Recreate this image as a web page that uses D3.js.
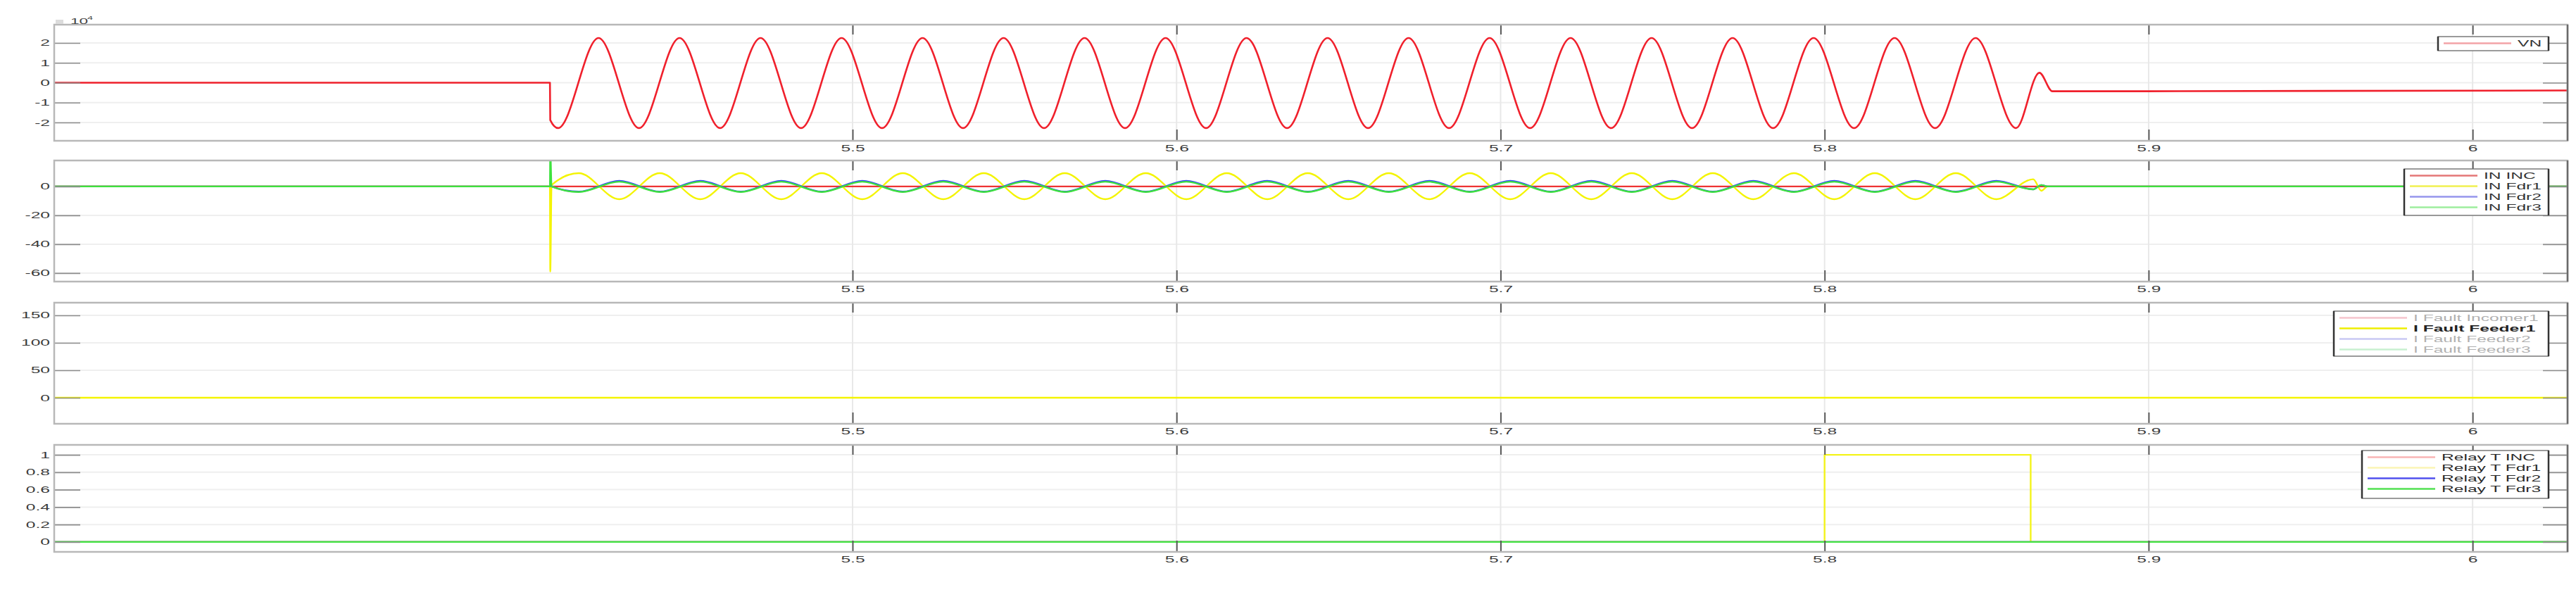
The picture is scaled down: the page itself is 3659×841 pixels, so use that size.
<!DOCTYPE html>
<html>
<head>
<meta charset="utf-8">
<script src="https://cdn.jsdelivr.net/npm/d3@7"></script>
<style>
  body { margin: 0; background: #fff; }
  svg { display: block; }
  text { font-family: "Liberation Sans", Arial, sans-serif; }
</style>
</head>
<body>
<svg id="chart" width="3659" height="841"></svg>
<script>
// ---- values ----
const timeRange = [5.2536, 6.0293];
const timeTicks = [5.5, 5.6, 5.7, 5.8, 5.9, 6];

// VN: neutral voltage, extrema of the fault waveform
const vnTime = [5.2536, 5.4066, 5.4067,
  5.4091, 5.4216, 5.4341, 5.4466, 5.4591, 5.4716, 5.4841, 5.4966, 5.5091, 5.5216,
  5.5341, 5.5466, 5.5591, 5.5716, 5.5841, 5.5966, 5.6091, 5.6216, 5.6341, 5.6466,
  5.6591, 5.6716, 5.6841, 5.6966, 5.7091, 5.7216, 5.7341, 5.7466, 5.7591, 5.7716,
  5.7841, 5.7966, 5.8091, 5.8216, 5.8341, 5.8466, 5.8591,
  5.8663, 5.8703, 6.0293];
const vnValue = [0, 0, -18800,
  -22800, 22500, -22800, 22500, -22800, 22500, -22800, 22500, -22800, 22500,
  -22800, 22500, -22800, 22500, -22800, 22500, -22800, 22500, -22800, 22500,
  -22800, 22500, -22800, 22500, -22800, 22500, -22800, 22500, -22800, 22500,
  -22800, 22500, -22800, 22500, -22800, 22500, -22800,
  5000, -4300, -3900];

// IN: neutral currents
const inTime = [5.2536, 5.4066, 5.4067, 5.4071,
  5.4155, 5.4280, 5.4405, 5.4530, 5.4655, 5.4780, 5.4905, 5.5030, 5.5155, 5.5280,
  5.5405, 5.5530, 5.5655, 5.5780, 5.5905, 5.6030, 5.6155, 5.6280, 5.6405, 5.6530,
  5.6655, 5.6780, 5.6905, 5.7030, 5.7155, 5.7280, 5.7405, 5.7530, 5.7655, 5.7780,
  5.7905, 5.8030, 5.8155, 5.8280, 5.8405, 5.8530,
  5.8644, 5.8669, 5.8688, 6.0293];
const inFdr1 = [0, 0, -59, 1,
  9.2, -8.8, 9.2, -8.8, 9.2, -8.8, 9.2, -8.8, 9.2, -8.8,
  9.2, -8.8, 9.2, -8.8, 9.2, -8.8, 9.2, -8.8, 9.2, -8.8,
  9.2, -8.8, 9.2, -8.8, 9.2, -8.8, 9.2, -8.8, 9.2, -8.8,
  9.2, -8.8, 9.2, -8.8, 9.2, -8.8,
  5, -3, 0, 0];
const inFdr2 = [0, 0, 4, 0,
  -3.6, 3.9, -3.6, 3.9, -3.6, 3.9, -3.6, 3.9, -3.6, 3.9,
  -3.6, 3.9, -3.6, 3.9, -3.6, 3.9, -3.6, 3.9, -3.6, 3.9,
  -3.6, 3.9, -3.6, 3.9, -3.6, 3.9, -3.6, 3.9, -3.6, 3.9,
  -3.6, 3.9, -3.6, 3.9, -3.6, 3.9,
  -2, 1, 0, 0];
const inFdr3 = [0, 0, 26, 0,
  -3.8, 3.3, -3.8, 3.3, -3.8, 3.3, -3.8, 3.3, -3.8, 3.3,
  -3.8, 3.3, -3.8, 3.3, -3.8, 3.3, -3.8, 3.3, -3.8, 3.3,
  -3.8, 3.3, -3.8, 3.3, -3.8, 3.3, -3.8, 3.3, -3.8, 3.3,
  -3.8, 3.3, -3.8, 3.3, -3.8, 3.3,
  -2, 1, 0, 0];
const inIncTime = [5.2536, 6.0293];
const inIncValue = [0, 0];

// I Fault: only feeder 1 is shown
const faultTime = [5.2536, 6.0293];
const faultFeeder1 = [0, 0];

// Relay trip signals
const relayTime = [5.2536, 5.8, 5.8636, 6.0293];
const relayInc = [0, 0, 0, 0];
const relayFdr1 = [0, 1, 0, 0];
const relayFdr2 = [0, 0, 0, 0];
const relayFdr3 = [0, 0, 0, 0];

const vnTicks = [-20000, -10000, 0, 10000, 20000];
const inTicks = [-60, -40, -20, 0];
const faultTicks = [0, 50, 100, 150];
const relayTicks = [0, 0.2, 0.4, 0.6, 0.8, 1];

const vnLegend = ["VN"];
const inLegend = ["IN INC", "IN Fdr1", "IN Fdr2", "IN Fdr3"];
const faultLegend = ["I Fault Incomer1", "I Fault Feeder1", "I Fault Feeder2", "I Fault Feeder3"];
const relayLegend = ["Relay T INC", "Relay T Fdr1", "Relay T Fdr2", "Relay T Fdr3"];

// ---- drawing ----
const pair = (t, v) => t.map((d, i) => [d, v[i]]);
const SX = 2.05; // the screenshot is stretched sideways
const left = 77, right = 3647;

const svg = d3.select("#chart");
const x = d3.scaleLinear().domain(timeRange).range([left, right]);

function stretched(sel, px, py, str, anchor) {
  return sel.append("text")
    .attr("transform", `translate(${px},${py}) scale(${SX},1)`)
    .attr("text-anchor", anchor)
    .attr("font-size", 12)
    .text(str);
}

const panels = [
  { top: 35, bottom: 200, domain: [-29200, 29200], ticks: vnTicks, fmt: d => String(d / 1e4),
    series: [{ pts: pair(vnTime, vnValue), color: "#f0202c", w: 2.6 }],
    legend: { names: vnLegend, x0: 3463, top: 52, h: 20,
      colors: ["#f3a3a7"], text: ["#333"], bold: [false] } },
  { top: 228, bottom: 400, domain: [-65.9, 18], ticks: inTicks, fmt: d => String(d),
    series: [
      { pts: pair(inIncTime, inIncValue), color: "#ee3434", w: 2.4 },
      { pts: pair(inTime, inFdr1), color: "#f4f400", w: 2.4 },
      { pts: pair(inTime, inFdr2), color: "#3040ff", w: 2.4 },
      { pts: pair(inTime, inFdr3), color: "#3ee23e", w: 2.4 }],
    legend: { names: inLegend, x0: 3415, top: 240, h: 66,
      colors: ["#e47676", "#f0f050", "#9696ec", "#9eee9e"], text: ["#333", "#333", "#333", "#333"],
      bold: [false, false, false, false] } },
  { top: 430, bottom: 602, domain: [-47.4, 173], ticks: faultTicks, fmt: d => String(d),
    series: [{ pts: pair(faultTime, faultFeeder1), color: "#f4f400", w: 2.4 }],
    legend: { names: faultLegend, x0: 3315, top: 442, h: 64,
      colors: ["#f6c4cc", "#eeee00", "#c8c8f4", "#c8f0d0"], text: ["#b0b0b0", "#222", "#b0b0b0", "#b0b0b0"],
      bold: [false, true, false, false] } },
  { top: 632, bottom: 784, domain: [-0.114, 1.114], ticks: relayTicks, fmt: d => String(d),
    series: [
      { pts: pair(relayTime, relayInc), color: "#f4a0a0", w: 2.4, step: true },
      { pts: pair(relayTime, relayFdr1), color: "#f4f41c", w: 2.4, step: true },
      { pts: pair(relayTime, relayFdr2), color: "#4848f0", w: 2.4, step: true },
      { pts: pair(relayTime, relayFdr3), color: "#44e444", w: 2.4, step: true }],
    legend: { names: relayLegend, x0: 3355, top: 640, h: 68,
      colors: ["#f8b4b4", "#fbf4b4", "#5050ee", "#52e052"], text: ["#2a2a2a", "#2a2a2a", "#2a2a2a", "#2a2a2a"],
      bold: [false, false, false, false] } }
];

panels.forEach((p, i) => {
  const y = d3.scaleLinear().domain(p.domain).range([p.bottom, p.top]);
  const g = svg.append("g");

  g.append("clipPath").attr("id", "clip" + i).append("rect")
    .attr("x", left).attr("y", p.top).attr("width", right - left).attr("height", p.bottom - p.top);

  // grid
  g.append("g").selectAll("line").data(p.ticks).join("line")
    .attr("x1", left).attr("x2", right).attr("y1", d => y(d)).attr("y2", d => y(d))
    .attr("stroke", "#efefef").attr("stroke-width", 2);
  g.append("g").selectAll("line").data(timeTicks).join("line")
    .attr("x1", d => x(d)).attr("x2", d => x(d)).attr("y1", p.top).attr("y2", p.bottom)
    .attr("stroke", "#e8e8e8").attr("stroke-width", 2);

  // traces
  const plot = g.append("g").attr("clip-path", `url(#clip${i})`);
  p.series.forEach(s => {
    const line = d3.line().x(d => x(d[0])).y(d => y(d[1]))
      .curve(s.step ? d3.curveStepAfter : d3.curveMonotoneX);
    plot.append("path").datum(s.pts).attr("d", line)
      .attr("fill", "none").attr("stroke", s.color).attr("stroke-width", s.w)
      .attr("stroke-linejoin", "round");
  });

  // axes (MATLAB style inward ticks)
  const yl = g.append("g").attr("transform", `translate(${left},0)`)
    .call(d3.axisLeft(y).tickValues(p.ticks).tickFormat(p.fmt).tickSize(-37).tickPadding(6));
  const yr = g.append("g").attr("transform", `translate(${right},0)`)
    .call(d3.axisRight(y).tickValues(p.ticks).tickFormat("").tickSize(-35));
  const xb = g.append("g").attr("transform", `translate(0,${p.bottom})`)
    .call(d3.axisBottom(x).tickValues(timeTicks).tickFormat(d => String(d)).tickSize(-16).tickPadding(4));
  const xt = g.append("g").attr("transform", `translate(0,${p.top})`)
    .call(d3.axisTop(x).tickValues(timeTicks).tickFormat("").tickSize(-14));
  [yl, yr, xb, xt].forEach(a => a.select(".domain").remove());
  [yl, yr].forEach(a => a.selectAll(".tick line").attr("stroke", "#8c8c8c").attr("stroke-width", 1.6));
  [xb, xt].forEach(a => a.selectAll(".tick line").attr("stroke", "#5a5a5a").attr("stroke-width", 2));
  yl.selectAll(".tick text")
    .attr("x", null).attr("dy", null)
    .attr("transform", `translate(-6,4) scale(${SX},1)`)
    .attr("fill", "#3a3a3a").attr("font-size", 12);
  xb.selectAll(".tick text")
    .attr("y", null).attr("dy", null)
    .attr("transform", `translate(0,15) scale(${SX},1)`)
    .attr("fill", "#3a3a3a").attr("font-size", 12);

  // frame
  g.append("rect").attr("x", left).attr("y", p.top)
    .attr("width", right - left).attr("height", p.bottom - p.top)
    .attr("fill", "none").attr("stroke", "#b8b8b8").attr("stroke-width", 2.5);
  g.append("line").attr("x1", right).attr("x2", right).attr("y1", p.top).attr("y2", p.bottom)
    .attr("stroke", "#6a6a6a").attr("stroke-width", 2.5);

  // legend
  const L = p.legend, lx1 = 3620;
  const lg = g.append("g");
  lg.append("rect").attr("x", L.x0).attr("y", L.top).attr("width", lx1 - L.x0).attr("height", L.h)
    .attr("fill", "#fff").attr("stroke", "#7a7a7a").attr("stroke-width", 1.5);
  [L.x0, lx1].forEach(ex => lg.append("line").attr("x1", ex).attr("x2", ex)
    .attr("y1", L.top).attr("y2", L.top + L.h).attr("stroke", "#333").attr("stroke-width", 2.5));
  L.names.forEach((name, k) => {
    const ry = L.top + 9.5 + k * 15;
    lg.append("line").attr("x1", L.x0 + 8).attr("x2", L.x0 + 104)
      .attr("y1", ry).attr("y2", ry).attr("stroke", L.colors[k]).attr("stroke-width", 2.6);
    stretched(lg, L.x0 + 113, ry + 4.5, name, "start")
      .attr("fill", L.text[k]).attr("font-weight", L.bold[k] ? "bold" : null);
  });
});

// exponent label of the VN axis
const ex = svg.append("g");
ex.append("rect").attr("x", 79).attr("y", 28).attr("width", 11).attr("height", 6).attr("fill", "#dcdcdc");
stretched(ex, 100, 34, "10", "start").attr("fill", "#444").attr("font-size", 11);
stretched(ex, 124, 28, "4", "start").attr("fill", "#444").attr("font-size", 7);
</script>
</body>
</html>
